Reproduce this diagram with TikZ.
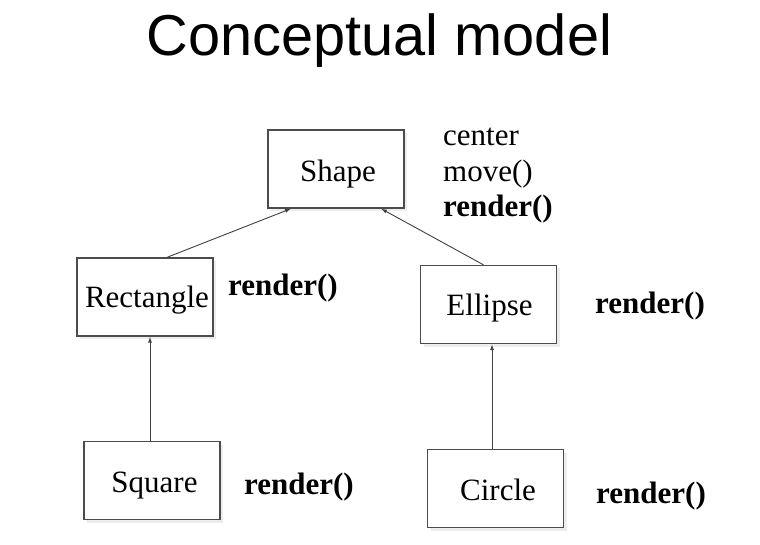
\documentclass[tikz,border=0pt]{standalone}
\usepackage{fontspec}
\setmainfont{Liberation Serif}
\newfontfamily\titlefont{Liberation Sans}
\usetikzlibrary{arrows.meta,shadows}
\begin{document}
\begin{tikzpicture}[x=1pt,y=-1pt,
  box/.style={draw=black!70, line width=1.3pt, fill=white, minimum width=136pt, minimum height=78pt, inner sep=0pt,
    drop shadow={shadow xshift=3pt,shadow yshift=-3pt,opacity=0.07,fill=black}},
  lbl/.style={font=\fontsize{31}{37}\selectfont, inner sep=0pt, anchor=base},
  attr/.style={font=\fontsize{31}{37}\selectfont, inner sep=0pt, anchor=base west},
  meth/.style={font=\fontsize{31}{37}\selectfont\bfseries, inner sep=0pt, anchor=base west},
  arr/.style={draw=black!75, line width=0.9pt, -{Latex[length=6pt,width=4pt]}}]
\useasboundingbox (0,0) rectangle (760,545);
\fill[white] (0,0) rectangle (760,545);
\node[font=\titlefont\fontsize{57.7}{62}\selectfont, anchor=base, inner sep=0pt] (title) at (379.5,56) {Conceptual model};
% boxes
\node[box] (shape) at (336,169) {};
\node[box] (rect) at (145,297) {};
\node[box] (ell) at (488.5,304.5) {};
\node[box] (sq) at (152,480.5) {};
\node[box] (circ) at (495.5,488.5) {};
% box texts
\node[lbl] (shapet) at (338,182) {Shape};
\node[lbl] (rectt) at (147,308) {Rectangle};
\node[lbl] (ellt) at (489.5,315) {Ellipse};
\node[lbl] (sqt) at (154.5,492) {Square};
\node[lbl] (circt) at (498,500) {Circle};
% members
\node[attr] (c1) at (443,145.5) {center};
\node[attr] (c2) at (443,181.5) {move()};
\node[meth] (c3) at (443,216.5) {render()};
\node[meth] (r1) at (228,295) {render()};
\node[meth] (e1) at (595,313) {render()};
\node[meth] (s1) at (244,494) {render()};
\node[meth] (ci1) at (596,503) {render()};
% connectors
\draw[arr] ([xshift=22pt]rect.north) -- ([xshift=-45pt]shape.south);
\draw[arr] ([xshift=-5pt]ell.north) -- ([xshift=45pt]shape.south);
\draw[arr] ([xshift=-2pt]sq.north) -- ([xshift=5pt]rect.south);
\draw[arr] ([xshift=-3.5pt]circ.north) -- ([xshift=3.5pt]ell.south);
\end{tikzpicture}
\end{document}
